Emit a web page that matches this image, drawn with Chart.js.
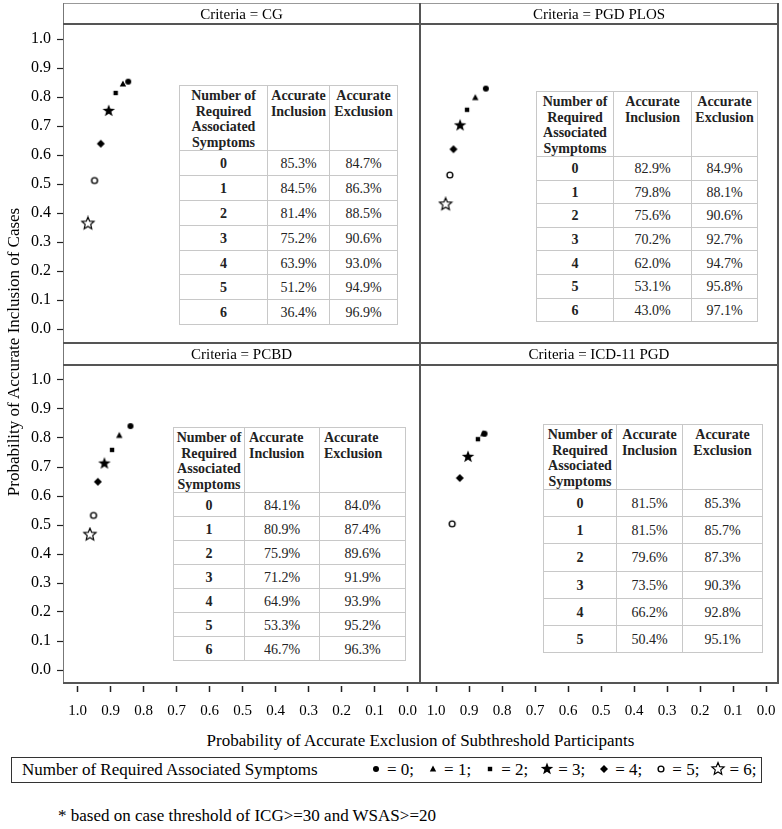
<!DOCTYPE html>
<html>
<head>
<meta charset="utf-8">
<script src="https://cdn.jsdelivr.net/npm/chart.js@4.4.1/dist/chart.umd.min.js"></script>
<style>
  body { margin: 0; background: #fff; font-family: "Liberation Serif", "Times New Roman", serif; color: #000; }
  #page { position: relative; width: 782px; height: 829px; overflow: hidden; }
  #page canvas { position: absolute; }
  .ln { position: absolute; z-index: 4; }
  .strip { position: absolute; z-index: 4; text-align: center; font-size: 15px; line-height: 20px; }
  table.inset { position: absolute; z-index: 3; border-collapse: collapse; table-layout: fixed; background: #fff; font-size: 14px; color: #222; }
  table.inset th, table.inset td { border: 1px solid #c8c8c8; padding: 0; text-align: center; }
  table.inset th { font-weight: bold; vertical-align: top; line-height: 15.5px; padding-top: 2px; }
  table.inset th.lft { text-align: left; padding-left: 4px; }
  table.inset td { vertical-align: middle; padding-top: 2px; }
  table.inset td:first-child { font-weight: bold; }
  #ytitle { position: absolute; z-index: 4; left: -236px; top: 342px; width: 500px; text-align: center; font-size: 17px; line-height: 20px; transform: rotate(-90deg); }
  #xtitle { position: absolute; z-index: 4; left: 63px; width: 715px; top: 731px; text-align: center; font-size: 17px; line-height: 20px; }
  #legend { position: absolute; z-index: 4; left: 11px; top: 757px; width: 751px; height: 26px; box-sizing: border-box; border: 1.5px solid #333; font-size: 17px; line-height: 23px; padding-left: 10px; white-space: nowrap; }
  #legend .items { position: absolute; left: 356px; top: 0; }
  #legend .it { margin-right: 11px; }
  #legend canvas { position: static; vertical-align: -2px; margin-right: 3px; }
  #note { position: absolute; z-index: 4; left: 58px; top: 806px; font-size: 17px; line-height: 20px; }
</style>
</head>
<body>
<div id="page">
  <canvas id="cTL" width="420" height="319" style="left:0px;top:24px"></canvas>
  <canvas id="cTR" width="358" height="319" style="left:420px;top:24px"></canvas>
  <canvas id="cBL" width="420" height="358" style="left:0px;top:365px"></canvas>
  <canvas id="cBR" width="358" height="358" style="left:420px;top:365px"></canvas>

  <table class="inset" id="tCG"></table>
  <table class="inset" id="tPLOS"></table>
  <table class="inset" id="tPCBD"></table>
  <table class="inset" id="tICD"></table>

  <!-- panel frame -->
  <div class="ln" style="left:63px;top:3px;width:715px;height:1px;background:#999"></div>
  <div class="ln" style="left:63px;top:3px;width:1px;height:680px;background:#777"></div>
  <div class="ln" style="left:63px;top:23px;width:716px;height:2px;background:#555"></div>
  <div class="ln" style="left:63px;top:342px;width:716px;height:2px;background:#555"></div>
  <div class="ln" style="left:63px;top:364px;width:716px;height:2px;background:#555"></div>
  <div class="ln" style="left:63px;top:682px;width:716px;height:2px;background:#555"></div>
  <div class="ln" style="left:419px;top:3px;width:2px;height:681px;background:#555"></div>
  <div class="ln" style="left:777px;top:3px;width:2px;height:681px;background:#555"></div>

  <div class="strip" id="s0" style="left:63px;width:357px;top:4px"></div>
  <div class="strip" id="s1" style="left:420px;width:358px;top:4px"></div>
  <div class="strip" id="s2" style="left:63px;width:357px;top:344px"></div>
  <div class="strip" id="s3" style="left:420px;width:358px;top:344px"></div>

  <div id="ytitle">Probability of Accurate Inclusion of Cases</div>
  <div id="xtitle">Probability of Accurate Exclusion of Subthreshold Participants</div>
  <div id="legend">Number of Required Associated Symptoms<span class="items" id="legItems"></span></div>
  <div id="note">* based on case threshold of ICG&gt;=30 and WSAS&gt;=20</div>
</div>

<script>
// data (percent), one row per number of required associated symptoms
var symptomCounts = [0, 1, 2, 3, 4, 5, 6];

var cgInclusion = [85.3, 84.5, 81.4, 75.2, 63.9, 51.2, 36.4];
var cgExclusion = [84.7, 86.3, 88.5, 90.6, 93.0, 94.9, 96.9];

var plosInclusion = [82.9, 79.8, 75.6, 70.2, 62.0, 53.1, 43.0];
var plosExclusion = [84.9, 88.1, 90.6, 92.7, 94.7, 95.8, 97.1];

var pcbdInclusion = [84.1, 80.9, 75.9, 71.2, 64.9, 53.3, 46.7];
var pcbdExclusion = [84.0, 87.4, 89.6, 91.9, 93.9, 95.2, 96.3];

var icdInclusion = [81.5, 81.5, 79.6, 73.5, 66.2, 50.4];
var icdExclusion = [85.3, 85.7, 87.3, 90.3, 92.8, 95.1];

var xTicks = [1.0, 0.9, 0.8, 0.7, 0.6, 0.5, 0.4, 0.3, 0.2, 0.1, 0.0];
var yTicks = [0.0, 0.1, 0.2, 0.3, 0.4, 0.5, 0.6, 0.7, 0.8, 0.9, 1.0];

var panelTitles = ["Criteria = CG", "Criteria = PGD PLOS", "Criteria = PCBD", "Criteria = ICD-11 PGD"];
var tableHeaders = [["Number of", "Required", "Associated", "Symptoms"], ["Accurate", "Inclusion"], ["Accurate", "Exclusion"]];

var FONT = "'Liberation Serif', 'Times New Roman', serif";

// marker glyphs, drawn once and handed to chart.js as pointStyle
var markerKinds = ["dot", "triangle", "square", "star", "diamond", "ring", "openStar"];

function starPath(g, R, r) {
  g.beginPath();
  for (var k = 0; k < 10; k++) {
    var a = -Math.PI / 2 + k * Math.PI / 5;
    var d = (k % 2) ? r : R;
    g.lineTo(Math.cos(a) * d, Math.sin(a) * d);
  }
  g.closePath();
}

function makeMarker(kind) {
  var c = document.createElement("canvas");
  c.width = 16; c.height = 16;
  var g = c.getContext("2d");
  g.translate(8, 8);
  g.fillStyle = "#000";
  g.strokeStyle = "#000";
  if (kind == "dot") {
    g.beginPath(); g.arc(0, 0, 3, 0, 2 * Math.PI); g.fill();
  } else if (kind == "triangle") {
    g.beginPath(); g.moveTo(0, -3.5); g.lineTo(3.2, 2.4); g.lineTo(-3.2, 2.4); g.closePath(); g.fill();
  } else if (kind == "square") {
    g.fillRect(-2.2, -2.2, 4.4, 4.4);
  } else if (kind == "star") {
    starPath(g, 6.6, 2.7); g.fill();
  } else if (kind == "diamond") {
    g.beginPath(); g.moveTo(0, -4); g.lineTo(4, 0); g.lineTo(0, 4); g.lineTo(-4, 0); g.closePath(); g.fill();
  } else if (kind == "ring") {
    g.lineWidth = 1.4;
    g.fillStyle = "#fff";
    g.beginPath(); g.arc(0, 0, 2.9, 0, 2 * Math.PI); g.fill(); g.stroke();
  } else if (kind == "openStar") {
    g.lineWidth = 1.2;
    g.fillStyle = "#fff";
    starPath(g, 6.4, 2.9); g.fill(); g.stroke();
  }
  return c;
}

var markers = markerKinds.map(makeMarker);

// fixed axis sizes, and no label overhang padding so the plot area fills the panel
function fixAxis(size, horizontal) {
  return function (s) {
    if (horizontal) s.height = size; else s.width = size;
    s.paddingTop = 0; s.paddingBottom = 0; s.paddingLeft = 0; s.paddingRight = 0;
  };
}

function panelChart(id, incl, excl, o) {
  var datasets = incl.map(function (v, i) {
    return {
      label: "= " + symptomCounts[i] + ";",
      data: [{ x: excl[i] / 100, y: v / 100 }],
      pointStyle: markers[i],
      pointRadius: 6,
      pointHoverRadius: 6
    };
  });
  return new Chart(document.getElementById(id), {
    type: "scatter",
    data: { datasets: datasets },
    options: {
      responsive: false,
      animation: false,
      devicePixelRatio: 1,
      events: [],
      layout: { padding: 0, autoPadding: false },
      plugins: { legend: { display: false }, tooltip: { enabled: false } },
      scales: {
        x: {
          type: "linear",
          reverse: true,
          min: o.xMin, max: o.xMax,
          display: o.showX,
          afterFit: fixAxis(o.showX ? 40 : 0, true),
          afterBuildTicks: function (s) { s.ticks = xTicks.map(function (v) { return { value: v }; }); },
          ticks: {
            autoSkip: false, maxRotation: 0, padding: 10, color: "#000",
            font: { family: FONT, size: 15 },
            callback: function (v) { return Number(v).toFixed(1); }
          },
          grid: {
            drawOnChartArea: false, drawTicks: true, tickLength: 9,
            tickBorderDash: [6, 3], tickBorderDashOffset: 6,
            tickColor: "#222", tickWidth: 1.5
          },
          border: { display: false }
        },
        y: {
          type: "linear",
          min: o.yMin, max: o.yMax,
          display: o.showY,
          afterFit: fixAxis(o.showY ? 63 : 0, false),
          afterBuildTicks: function (s) { s.ticks = yTicks.map(function (v) { return { value: v }; }); },
          ticks: {
            autoSkip: false, padding: 6, color: "#000",
            font: { family: FONT, size: 16 },
            callback: function (v) { return Number(v).toFixed(1); }
          },
          grid: { drawOnChartArea: false, drawTicks: true, tickLength: 6, tickColor: "#222", tickWidth: 1.2 },
          border: { display: false }
        }
      }
    }
  });
}

// 330px per unit across, 290px per unit down; ends padded to where 1.0 / 0.0 sit in each panel
var leftX = { xMin: -12.3 / 330, xMax: 1 + 14.7 / 330 };
var rightX = { xMin: -12 / 330, xMax: 1 + 16 / 330 };
var topY = { yMin: -14 / 290, yMax: 1 + 15 / 290 };
var botY = { yMin: -13 / 290, yMax: 1 + 15 / 290 };

panelChart("cTL", cgInclusion, cgExclusion, { xMin: leftX.xMin, xMax: leftX.xMax, yMin: topY.yMin, yMax: topY.yMax, showX: false, showY: true });
panelChart("cTR", plosInclusion, plosExclusion, { xMin: rightX.xMin, xMax: rightX.xMax, yMin: topY.yMin, yMax: topY.yMax, showX: false, showY: false });
panelChart("cBL", pcbdInclusion, pcbdExclusion, { xMin: leftX.xMin, xMax: leftX.xMax, yMin: botY.yMin, yMax: botY.yMax, showX: true, showY: true });
panelChart("cBR", icdInclusion, icdExclusion, { xMin: rightX.xMin, xMax: rightX.xMax, yMin: botY.yMin, yMax: botY.yMax, showX: true, showY: false });

// panel strips
panelTitles.forEach(function (t, i) { document.getElementById("s" + i).textContent = t; });

// inset tables
function buildTable(id, incl, excl, spec) {
  var t = document.getElementById(id);
  t.style.left = spec.left + "px";
  t.style.top = spec.top + "px";
  t.style.width = spec.cols.reduce(function (a, b) { return a + b; }, 0) + "px";
  var html = "<colgroup>" + spec.cols.map(function (w) { return '<col style="width:' + w + 'px">'; }).join("") + "</colgroup>";
  html += '<tr style="height:' + spec.head + 'px">';
  tableHeaders.forEach(function (h, j) {
    html += "<th" + (j > 0 && spec.headLeft ? ' class="lft"' : "") + ">" + h.join("<br>") + "</th>";
  });
  html += "</tr>";
  incl.forEach(function (v, i) {
    html += '<tr style="height:' + spec.row + 'px"><td>' + symptomCounts[i] + "</td><td>" + v.toFixed(1) + "%</td><td>" + excl[i].toFixed(1) + "%</td></tr>";
  });
  t.innerHTML = html;
}

buildTable("tCG", cgInclusion, cgExclusion, { left: 179, top: 85, cols: [88, 62, 68], head: 64, row: 24.9 });
buildTable("tPLOS", plosInclusion, plosExclusion, { left: 536, top: 91, cols: [77, 78, 66], head: 64, row: 23.6 });
buildTable("tPCBD", pcbdInclusion, pcbdExclusion, { left: 173, top: 427, cols: [71, 75, 86], head: 65, row: 24, headLeft: true });
buildTable("tICD", icdInclusion, icdExclusion, { left: 543, top: 424, cols: [73, 66, 80], head: 65, row: 27.2 });

// legend strip
var legItems = document.getElementById("legItems");
symptomCounts.forEach(function (n, i) {
  var span = document.createElement("span");
  span.className = "it";
  var c = document.createElement("canvas");
  c.width = 16; c.height = 16;
  c.getContext("2d").drawImage(markers[i], 0, 0);
  span.appendChild(c);
  span.appendChild(document.createTextNode("= " + n + ";"));
  legItems.appendChild(span);
});
</script>
</body>
</html>
